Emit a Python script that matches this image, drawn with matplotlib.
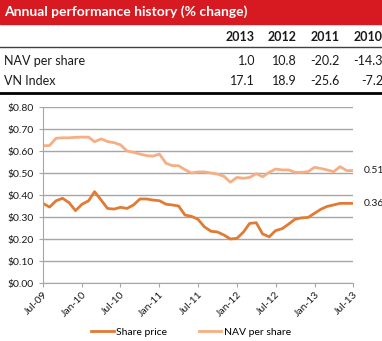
import numpy as np
import pandas as pd
import matplotlib
matplotlib.use('Agg')
import matplotlib.pyplot as plt
import matplotlib.dates as mdates
from matplotlib.lines import Line2D

plt.rcParams['font.family'] = ['Lato', 'DejaVu Sans']

#%% data
years = ['2013', '2012', '2011', '2010']
nav_change = ['1.0', '10.8', '-20.2', '-14.3']
vn_change = ['17.1', '18.9', '-25.6', '-7.2']

dates = pd.date_range('2009-07-01', '2013-07-01', freq='MS')

share_price = [0.362, 0.345, 0.374, 0.385, 0.365, 0.329, 0.358, 0.374, 0.415, 0.377,
               0.339, 0.336, 0.344, 0.339, 0.355, 0.382, 0.382, 0.377, 0.374, 0.358,
               0.355, 0.350, 0.309, 0.303, 0.290, 0.255, 0.235, 0.232, 0.218, 0.200,
               0.203, 0.232, 0.271, 0.274, 0.223, 0.210, 0.238, 0.247, 0.268, 0.290,
               0.296, 0.298, 0.317, 0.336, 0.348, 0.355, 0.362, 0.362, 0.362]

nav_share = [0.624, 0.625, 0.658, 0.660, 0.660, 0.662, 0.663, 0.663, 0.642, 0.655,
             0.643, 0.638, 0.628, 0.600, 0.594, 0.586, 0.579, 0.577, 0.586, 0.544,
             0.534, 0.533, 0.515, 0.500, 0.505, 0.505, 0.500, 0.495, 0.485, 0.458,
             0.480, 0.476, 0.480, 0.497, 0.483, 0.503, 0.518, 0.514, 0.514, 0.503,
             0.503, 0.506, 0.526, 0.520, 0.514, 0.506, 0.529, 0.511, 0.511]

#%% style
red = '#D71A21'
dark = '#E17B34'
light = '#F6AE84'
grid = '#A6A6A6'
txt = '#1a1a1a'

W, H = 382, 341
fig = plt.figure(figsize=(W / 100, H / 100), dpi=100)

def fx(px):
    return px / W

def fy(py):
    return 1 - py / H

#%% header and table
fig.patches.append(plt.Rectangle((0, fy(24)), 1, 24 / H, transform=fig.transFigure,
                                 color=red, zorder=0))
fig.text(fx(4), fy(12), 'Annual performance history (% change)', color='white',
         fontsize=10, fontweight='bold', va='center', ha='left')

col_right = [255, 297, 340, 383]
for x, yr, nv, vn in zip(col_right, years, nav_change, vn_change):
    fig.text(fx(x), fy(37), yr, fontsize=9, fontweight='bold', ha='right', va='center', color=txt)
    fig.text(fx(x), fy(61), nv, fontsize=9, ha='right', va='center', color=txt)
    fig.text(fx(x), fy(81), vn, fontsize=9, ha='right', va='center', color=txt)
fig.text(fx(4), fy(61), 'NAV per share', fontsize=9, ha='left', va='center', color=txt)
fig.text(fx(4), fy(81), 'VN Index', fontsize=9, ha='left', va='center', color=txt)

fig.add_artist(Line2D([0, 1], [fy(47), fy(47)], color='#404040', lw=1.0))
fig.add_artist(Line2D([0, 1], [fy(93), fy(93)], color='black', lw=2.0))

#%% chart
ax = fig.add_axes([fx(43), fy(283), fx(353 - 43), (283 - 107) / H])
ax.plot(dates, share_price, color=dark, lw=2.0, label='Share price')
ax.plot(dates, nav_share, color=light, lw=2.0, label='NAV per share')

ax.set_ylim(0, 0.8)
ax.set_yticks(np.arange(0, 0.81, 0.1))
ax.set_yticklabels([f'${v:.2f}' for v in np.arange(0, 0.81, 0.1)])
ax.set_xlim(dates[0], dates[-1])
ax.set_xticks(dates[::6])
ax.xaxis.set_major_formatter(mdates.DateFormatter('%b-%y'))
for lab in ax.get_xticklabels():
    lab.set_rotation(45)
    lab.set_ha('right')
    lab.set_rotation_mode('anchor')

ax.grid(axis='y', color=grid, lw=1)
ax.set_axisbelow(True)
for s in ['top', 'right']:
    ax.spines[s].set_visible(False)
for s in ['left', 'bottom']:
    ax.spines[s].set_color(grid)
ax.tick_params(axis='both', colors=grid, length=3, width=0.8, labelsize=7.5, labelcolor=txt)
ax.tick_params(axis='x', pad=2)

ax.annotate(f'{nav_share[-1]:.2f}', xy=(dates[-1], nav_share[-1]), xytext=(7.5, 0),
            textcoords='offset points', fontsize=7.5, va='center', color=txt,
            annotation_clip=False)
ax.annotate(f'{share_price[-1]:.2f}', xy=(dates[-1], share_price[-1]), xytext=(7.5, 0),
            textcoords='offset points', fontsize=7.5, va='center', color=txt,
            annotation_clip=False)

fig.legend(loc='center', bbox_to_anchor=(0.5, fy(332)), ncol=2, frameon=False,
           fontsize=7.5, handlelength=2.2, handletextpad=0.2, columnspacing=3)

fig.savefig('out.png', dpi=100, facecolor='white')
